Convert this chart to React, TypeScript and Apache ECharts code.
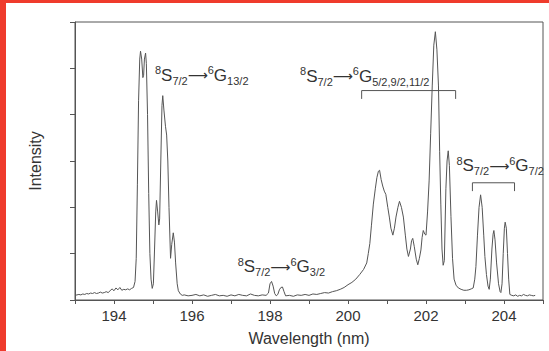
import React, { useEffect, useRef } from "react";
import * as echarts from "echarts";

// Emission spectrum: wavelength (nm) and relative intensity
const wavelength = [
  193.0, 193.05, 193.1, 193.15, 193.2, 193.25, 193.3, 193.35, 193.4, 193.45,
  193.5, 193.55, 193.6, 193.65, 193.7, 193.75, 193.8, 193.85, 193.9, 193.95,
  194.0, 194.05, 194.1, 194.15, 194.2, 194.25, 194.3, 194.35, 194.4, 194.45,
  194.5, 194.54, 194.57, 194.6, 194.63, 194.66, 194.68, 194.71, 194.74, 194.76,
  194.78, 194.81, 194.83, 194.86, 194.89, 194.92, 194.95, 194.98, 195.01, 195.04,
  195.07, 195.09, 195.12, 195.15, 195.17, 195.2, 195.23, 195.25, 195.28, 195.32,
  195.35, 195.38, 195.41, 195.45, 195.48, 195.52, 195.55, 195.58, 195.62, 195.65,
  195.7, 195.75, 195.8, 195.9, 196.0, 196.1, 196.2, 196.3, 196.4, 196.5,
  196.6, 196.7, 196.8, 196.9, 197.0, 197.1, 197.2, 197.3, 197.4, 197.5,
  197.6, 197.7, 197.8, 197.9, 197.96, 198.0, 198.04, 198.08, 198.12, 198.16,
  198.2, 198.24, 198.28, 198.32, 198.36, 198.4, 198.5, 198.6, 198.7, 198.8,
  198.9, 199.0, 199.1, 199.2, 199.3, 199.4, 199.5, 199.6, 199.7, 199.8,
  199.9, 200.0, 200.1, 200.2, 200.3, 200.4, 200.48, 200.52, 200.56, 200.6,
  200.65, 200.7, 200.74, 200.78, 200.81, 200.85, 200.89, 200.93, 200.97, 201.02,
  201.06, 201.1, 201.15, 201.19, 201.23, 201.28, 201.32, 201.37, 201.42, 201.47,
  201.51, 201.55, 201.6, 201.63, 201.66, 201.7, 201.75, 201.79, 201.83, 201.87,
  201.9, 201.93, 201.97, 202.0, 202.04, 202.08, 202.12, 202.16, 202.2, 202.24,
  202.28, 202.32, 202.35, 202.38, 202.41, 202.44, 202.47, 202.51, 202.54, 202.57,
  202.6, 202.64, 202.68, 202.72, 202.77, 202.83, 202.9, 202.97, 203.04, 203.1,
  203.16, 203.21, 203.25, 203.28, 203.32, 203.36, 203.4, 203.44, 203.48, 203.51,
  203.55, 203.59, 203.62, 203.65, 203.69, 203.72, 203.74, 203.77, 203.81, 203.86,
  203.9, 203.92, 203.95, 203.98, 204.01, 204.03, 204.06, 204.09, 204.12, 204.15,
  204.2, 204.25, 204.3, 204.35, 204.4, 204.45, 204.5, 204.55, 204.6, 204.65,
  204.7, 204.75, 204.8,
];

const intensity = [
  0.1, 0.11, 0.12, 0.11, 0.13, 0.12, 0.14, 0.13, 0.15, 0.14,
  0.16, 0.14, 0.15, 0.17, 0.15, 0.16, 0.18, 0.16, 0.2, 0.24,
  0.2, 0.26, 0.22, 0.27, 0.21, 0.23, 0.22, 0.24, 0.22, 0.25,
  0.27, 0.4, 0.9, 2.5, 4.3, 5.2, 5.37, 5.2, 4.8, 4.85,
  5.2, 5.33, 5.1, 4.0, 2.3, 1.0, 0.45, 0.25, 0.35, 1.1,
  1.9, 2.15, 1.9, 1.62, 1.75, 3.0, 4.2, 4.41, 4.1, 3.75,
  3.56, 3.0, 2.0, 0.9, 1.2, 1.45, 1.25, 0.8, 0.35, 0.2,
  0.13, 0.1, 0.11, 0.09, 0.1, 0.12, 0.09, 0.11, 0.08, 0.1,
  0.12, 0.09, 0.1, 0.08, 0.11, 0.09, 0.12, 0.1, 0.09, 0.13,
  0.1, 0.09, 0.11, 0.1, 0.15, 0.35, 0.4, 0.3, 0.14, 0.09,
  0.12, 0.22, 0.27, 0.28, 0.18, 0.09, 0.1, 0.08, 0.11, 0.1,
  0.12, 0.1, 0.13, 0.12, 0.14, 0.16, 0.15, 0.18, 0.2, 0.23,
  0.27, 0.33, 0.38, 0.45, 0.55, 0.66, 0.8, 1.0, 1.22, 1.6,
  2.07, 2.4, 2.64, 2.78, 2.8, 2.6, 2.46, 2.35, 2.28, 2.0,
  1.79, 1.55, 1.4, 1.55, 1.79, 2.0, 2.13, 2.0, 1.79, 1.4,
  1.1, 0.94, 1.1, 1.28, 1.33, 1.15, 0.88, 0.76, 0.9, 1.08,
  1.35, 1.5, 1.42, 1.4, 1.9, 2.57, 3.6, 4.62, 5.5, 5.79,
  5.4, 4.62, 3.2, 2.07, 1.1, 0.75, 0.85, 2.4, 3.0, 3.22,
  2.9, 1.8, 0.9, 0.45, 0.32, 0.26, 0.23, 0.21, 0.21, 0.22,
  0.24, 0.26, 0.45, 0.72, 1.4, 2.0, 2.27, 2.0, 1.4, 0.94,
  0.55, 0.3, 0.23, 0.45, 1.1, 1.42, 1.5, 1.3, 0.8, 0.35,
  0.18, 0.16, 0.35, 1.0, 1.55, 1.68, 1.55, 1.0, 0.45, 0.12,
  0.1, 0.09, 0.11, 0.08, 0.1, 0.09, 0.12, 0.1, 0.09, 0.11,
  0.1, 0.09, 0.1,
];

// Transition labels (upper level subscript) and the bracketed line groups
const transitionUpper = ["13/2", "3/2", "5/2,9/2,11/2", "7/2"];
const bracketRanges = [
  [200.35, 202.76],
  [203.19, 204.27],
];

const FONT = "'Liberation Sans', Arial, Helvetica, sans-serif";
const INK = "#333";

// anchor of each label (left edge, text baseline) in data units
const labelAnchors = [
  [195.05, 4.72],
  [197.17, 0.585],
  [198.77, 4.7],
  [202.78, 2.77],
];
// bracket bar height and drop in data units
const bracketLevels = [
  [4.52, 4.34],
  [2.53, 2.35],
];

// rich-text pieces, all top-aligned and shifted down by their top padding
const rich = {
  sup: { fontSize: 11, fontFamily: FONT, verticalAlign: "top", padding: [2, 0, 0, 0], fill: INK },
  m: { fontSize: 17, fontFamily: FONT, verticalAlign: "top", padding: [4, 0, 0, 0], fill: INK },
  ar: { fontSize: 14, fontFamily: "'DejaVu Sans', sans-serif", verticalAlign: "top", padding: [5.5, 0, 0, 0], fill: INK },
  sub: { fontSize: 11, fontFamily: FONT, verticalAlign: "top", padding: [12.5, 0, 0, 0], fill: INK },
};
const BASELINE_OFFSET = 18.4;

export default function App() {
  const ref = useRef<HTMLDivElement>(null);

  useEffect(() => {
    if (!ref.current) return;
    const chart = echarts.init(ref.current, null, { renderer: "svg" });
    const points = wavelength.map((w, i) => [w, intensity[i]]);

    chart.setOption({
      animation: false,
      backgroundColor: "#fff",
      grid: {
        left: 75,
        right: 6,
        top: 22,
        bottom: 47,
        show: true,
        borderColor: "#555",
        borderWidth: 1,
        backgroundColor: "transparent",
      },
      xAxis: {
        type: "value",
        min: 193,
        max: 205,
        interval: 1,
        name: "Wavelength (nm)",
        nameLocation: "middle",
        nameGap: 30,
        nameTextStyle: { fontSize: 16, fontFamily: FONT, color: INK },
        axisLine: { show: true, lineStyle: { color: "#555", width: 1 } },
        axisTick: { show: true, inside: false, length: 4, lineStyle: { color: "#555" } },
        axisLabel: {
          margin: 8,
          fontSize: 15,
          fontFamily: FONT,
          color: INK,
          formatter: (v: number) => (Math.round(v) % 2 === 0 ? String(Math.round(v)) : ""),
        },
        splitLine: { show: false },
      },
      yAxis: {
        type: "value",
        min: 0,
        max: 6,
        interval: 1,
        name: "Intensity",
        nameLocation: "middle",
        nameGap: 32,
        nameRotate: 90,
        nameTextStyle: { fontSize: 16, fontFamily: FONT, color: INK },
        axisLine: { show: true, lineStyle: { color: "#555", width: 1 } },
        axisTick: { show: true, inside: false, length: 5, lineStyle: { color: "#555" } },
        axisLabel: { show: false },
        splitLine: { show: false },
      },
      series: [
        {
          type: "line",
          data: points,
          showSymbol: false,
          symbol: "none",
          lineStyle: { color: "#555", width: 1 },
          silent: true,
        },
      ],
    });

    const px = (x: number, y: number) => chart.convertToPixel({ gridIndex: 0 }, [x, y]) as number[];

    const labels = transitionUpper.map((upper, i) => {
      const [x, y] = px(labelAnchors[i][0], labelAnchors[i][1]);
      return {
        type: "text",
        x,
        y: y - BASELINE_OFFSET,
        z: 10,
        style: {
          text: `{sup|8}{m|S}{sub|7/2}{ar|⟶}{sup|6}{m|G}{sub|${upper}}`,
          rich,
          align: "left",
          verticalAlign: "top",
        },
      };
    });

    const brackets = bracketRanges.map((r, i) => {
      const [x0, yTop] = px(r[0], bracketLevels[i][0]);
      const [x1, yDrop] = px(r[1], bracketLevels[i][1]);
      return {
        type: "polyline",
        z: 10,
        shape: { points: [[x0, yDrop], [x0, yTop], [x1, yTop], [x1, yDrop]] },
        style: { stroke: "#555", lineWidth: 1, fill: null },
      };
    });

    chart.setOption({
      graphic: [
        { type: "rect", shape: { x: 0, y: 0, width: 6, height: 351 }, style: { fill: "#EF3B2C" }, z: 20 },
        { type: "rect", shape: { x: 0, y: 0, width: 549, height: 3 }, style: { fill: "#EF3B2C" }, z: 20 },
        ...labels,
        ...brackets,
      ],
    });

    return () => chart.dispose();
  }, []);

  return (
    <div
      ref={ref}
      style={{ position: "absolute", left: 0, top: 0, width: 549, height: 351 }}
    />
  );
}
